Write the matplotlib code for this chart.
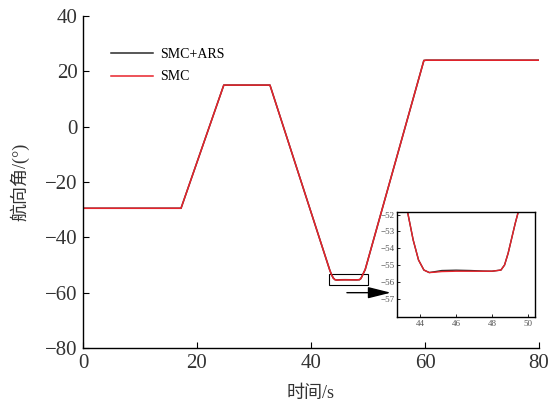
import matplotlib.pyplot as plt
from matplotlib.patches import Rectangle

plt.rcParams['font.family'] = ['Liberation Serif', 'Noto Sans CJK SC']
plt.rcParams['axes.unicode_minus'] = True

# heading response, time in s, angle in degrees
t = [0, 17.2, 24.7, 32.8, 43.0, 43.3, 43.6, 43.9, 44.2, 44.5, 44.8, 45.2, 46.0,
     46.8, 47.5, 48.0, 48.5, 48.7, 48.9, 49.1, 49.3, 49.5, 59.8, 60.2, 80]
smc = [-29.5, -29.5, 15, 15, -50, -51.9, -53.5, -54.7, -55.3, -55.45, -55.43,
       -55.39, -55.37, -55.37, -55.37, -55.37, -55.3, -55.0, -54.3, -53.4,
       -52.5, -51.7, 23.9, 24.0, 24.0]
smc_ars = [-29.5, -29.5, 15, 15, -50, -51.9, -53.5, -54.7, -55.3, -55.45, -55.40,
           -55.33, -55.31, -55.33, -55.36, -55.37, -55.3, -55.0, -54.3, -53.4,
           -52.5, -51.7, 23.9, 24.0, 24.0]

red = '#e8232b'
black = '#2a2a2a'

fig = plt.figure(figsize=(5.58, 4.08), dpi=100)
ax = fig.add_axes([0.1487, 0.147, 0.8173, 0.814])

ax.plot(t, smc_ars, color=black, lw=1.1, label='SMC+ARS')
ax.plot(t, smc, color=red, lw=1.1, label='SMC')

ax.set_xlim(0, 80)
ax.set_ylim(-80, 40)
ax.set_xticks([0, 20, 40, 60, 80])
ax.set_yticks([-80, -60, -40, -20, 0, 20, 40])
ax.tick_params(direction='in', labelsize=15, length=4, width=0.8, pad=4,
               labelcolor='#333333')
ax.spines['top'].set_visible(False)
ax.spines['right'].set_visible(False)
for s in ('left', 'bottom'):
    ax.spines[s].set_linewidth(1.0)
ax.set_xlabel('时间/s', fontsize=13, labelpad=9, color='#333333')
ax.set_ylabel('航向角/(°)', fontsize=13, labelpad=11, color='#333333')

ax.legend(loc='upper left', bbox_to_anchor=(0.035, 0.94), frameon=False,
          fontsize=10, handlelength=3.0, handletextpad=0.5, labelspacing=0.65)

# zoom box and arrow pointing to the inset
ax.add_patch(Rectangle((43.2, -57.2), 6.8, 4.0, fill=False, ec='k', lw=0.8))
ax.annotate('', xy=(54.0, -60.0), xytext=(46.3, -60.0),
            arrowprops=dict(arrowstyle='-|>,head_length=1.4,head_width=0.35',
                            color='k', lw=1.0, shrinkA=0, shrinkB=0))

ins = fig.add_axes([0.7115, 0.223, 0.2473, 0.257])
ins.plot(t, smc_ars, color=black, lw=1.0)
ins.plot(t, smc, color=red, lw=1.0)
ins.set_xlim(42.7, 50.4)
ins.set_ylim(-58.1, -51.85)
ins.set_xticks([44, 46, 48, 50])
ins.set_yticks([-57, -56, -55, -54, -53, -52])
ins.tick_params(direction='in', labelsize=6.5, length=2, width=0.6,
                labelcolor='#555555', pad=2)
for s in ins.spines.values():
    s.set_linewidth(1.0)

fig.savefig('out.png', dpi=100)
